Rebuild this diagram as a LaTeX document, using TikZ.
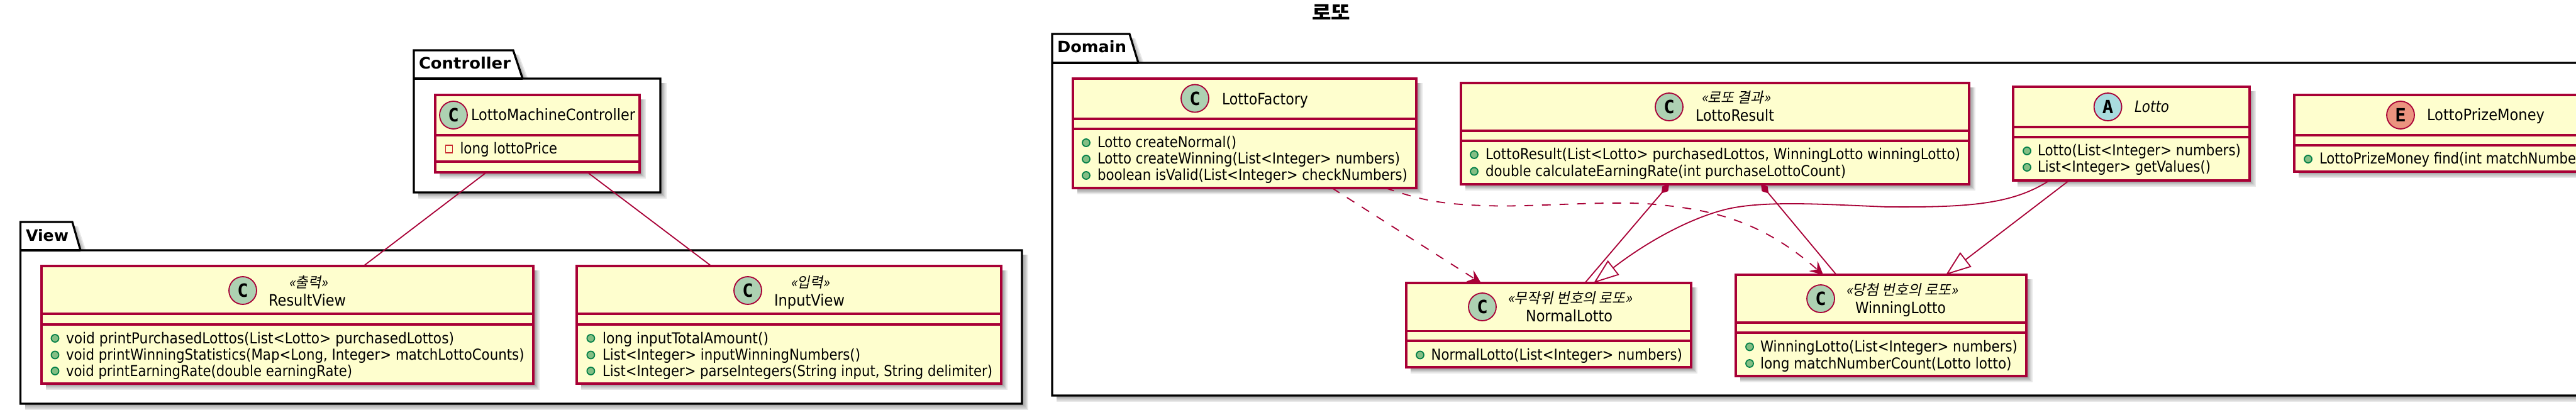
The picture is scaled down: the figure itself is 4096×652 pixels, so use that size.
\documentclass[tikz,border=0pt]{standalone}
\usepackage{fontspec}
\setmainfont{DejaVu Sans}
\newfontfamily\krs[FakeSlant=0.2]{Noto Sans CJK KR}
\newfontfamily\krb{Noto Sans CJK KR}
\newfontfamily\monoB{DejaVu Sans Mono}
\usetikzlibrary{arrows.meta}
\definecolor{umlborder}{HTML}{A80036}
\definecolor{umlfill}{HTML}{FEFECE}
\definecolor{umlclass}{HTML}{ADD1B2}
\definecolor{umlabs}{HTML}{A9DCDF}
\definecolor{umlenum}{HTML}{EB937F}
\definecolor{pubfill}{HTML}{84BE84}
\definecolor{publine}{HTML}{038048}
\definecolor{privline}{HTML}{C82930}
\tikzset{
  classbox/.style={draw=umlborder,fill=umlfill,line width=3.4pt,rectangle,inner sep=0pt,outer sep=0pt,anchor=north west},
  sepline/.style={draw=umlborder,line width=3.4pt},
  pkgline/.style={draw=black,fill=white,line width=3.2pt,line join=miter},
  shadowlayer/.style={fill=black,opacity=.09},
  spot/.style={circle,draw=umlborder,line width=1.8pt,minimum size=44pt,inner sep=0pt,outer sep=0pt},
  pubdot/.style={circle,draw=publine,fill=pubfill,line width=1.8pt,minimum size=12pt,inner sep=0pt},
  privsq/.style={rectangle,draw=privline,line width=1.8pt,minimum width=11pt,minimum height=12pt,inner sep=0pt},
  txtnode/.style={anchor=base west,inner sep=0pt,outer sep=0pt,text=black},
  conn/.style={draw=umlborder,line width=1.8pt},
  dep/.style={conn,dash pattern=on 14pt off 14pt,-{Stealth[length=21pt,width=21pt,inset=8pt,fill=umlborder]}},
  inh/.style={conn,-{Triangle[length=40pt,width=29pt,fill=white]}},
  comp/.style={conn,{Diamond[length=19pt,width=12pt,fill=umlborder]}-},
}
\newcounter{tn}
% x, y centre, width, text
\newcommand\lbl[5][]{\stepcounter{tn}\node[txtnode,#1] (t\arabic{tn}) at ({#2},{#3+8}) {\resizebox{#4pt}{\height}{#5}};}
\newcommand\mem[4]{\lbl{#1}{#2}{#3}{\fontsize{24}{26}\selectfont #4}}
\newcommand\nm[4]{\lbl{#1}{#2}{#3}{\fontsize{25}{26}\selectfont #4}}
\newcommand\ster[4]{\lbl{#1}{#2}{#3}{\fontsize{23}{24}\krs #4}}
\newcommand\pub[2]{\stepcounter{tn}\node[pubdot] (t\arabic{tn}) at ({#1},{#2}) {};}
\newcommand\spotc[4]{\stepcounter{tn}\node[spot,fill=#3] (t\arabic{tn}) at ({#1},{#2}) {\fontsize{29}{29}\monoB\bfseries #4};}
% name x1 y1 x2 y2 header-bottom separator
\newcommand\cls[7]{%
  \foreach \dd in {3,5,7,9}{\fill[shadowlayer] ({#2+7},{#3+7}) rectangle ({#4+\dd+1},{#5+\dd+1});}
  \node[classbox,minimum width={(#4-#2)*1pt},minimum height={(#5-#3)*1pt}] (#1) at (#2,#3) {};
  \draw[sepline] (#2,#6) -- (#4,#6);
  \draw[sepline] (#2,#7) -- (#4,#7);
}
% x1 tabtop tabx1 tabx2 bodytop x2 y2
\newcommand\pkg[7]{%
  \foreach \dd in {3,5,7,9}{\fill[shadowlayer] ({#1+7},{#5+7}) rectangle ({#6+\dd+1},{#7+\dd+1});
    \fill[shadowlayer] ({#3},{#2+7}) -- ({#3+\dd},{#2+7}) -- ({#4+\dd},{#5+1}) -- ({#4},{#5+1}) -- cycle;}
  \draw[pkgline] (#1,#5) -- (#1,#2) -- (#3,#2) -- (#4,#5) -- (#6,#5) -- (#6,#7) -- (#1,#7) -- cycle;
  \draw[pkgline] (#1,#5) -- (#4,#5);
}
\begin{document}
\begin{tikzpicture}[x=1pt,y=-1pt]
\useasboundingbox (0,0) rectangle (4096,652);
\clip (0,0) rectangle (4096,652);
% title
\stepcounter{tn}\node[anchor=base west,inner sep=0pt] (title) at (2086,32) {\resizebox{61pt}{\height}{\fontsize{31}{31}\krb\bfseries 로또}};
% packages
\pkg{658}{80}{816}{831}{125}{1050}{306}
\pkg{32.5}{353}{115}{128}{398}{1625}{642}
\pkg{1673}{54}{1796}{1810}{100}{4200}{629}
\lbl{666}{102}{146}{\fontsize{25}{26}\selectfont\bfseries Controller}
\lbl{41}{375}{68}{\fontsize{25}{26}\selectfont\bfseries View}
\lbl{1681}{76}{110}{\fontsize{25}{26}\selectfont\bfseries Domain}
% classes
\cls{lmc}{692}{151}{1017}{274}{215}{257}
\cls{rv}{66}{423}{848}{610}{499}{516}
\cls{iv}{917}{423}{1592}{610}{499}{516}
\cls{lf}{1706}{125}{2252}{299}{189}{205}
\cls{lr}{2323}{132}{3131}{293}{208}{224}
\cls{nl}{2236}{450}{2689}{584}{526.5}{542}
\cls{wl}{2760}{437}{3222}{598}{513}{529}
\cls{lotto}{3201}{138}{3577}{287}{202}{218}
\cls{lpm}{3648}{151}{4200}{273}{215}{231}
% LottoMachineController
\spotc{721}{183}{umlclass}{C}
\nm{749}{184}{261}{LottoMachineController}
\stepcounter{tn}\node[privsq] (t\arabic{tn}) at (714,237) {};
\mem{731.5}{237}{154.5}{long lottoPrice}
% ResultView
\spotc{386}{462}{umlclass}{C}
\ster{459}{449}{62}{«출력»}
\nm{427}{478}{123}{ResultView}
\pub{87.5}{538}\pub{87.5}{564.5}\pub{87.5}{590}
\mem{105}{538}{617}{void printPurchasedLottos(List<Lotto> purchasedLottos)}
\mem{105}{564.5}{728.5}{void printWinningStatistics(Map<Long, Integer> matchLottoCounts)}
\mem{105}{590}{455}{void printEarningRate(double earningRate)}
% InputView
\spotc{1189}{462}{umlclass}{C}
\ster{1257}{449}{62}{«입력»}
\nm{1231}{478}{112}{InputView}
\pub{939.4}{538}\pub{939.4}{564.5}\pub{939.4}{590}
\mem{958}{538}{264}{long inputTotalAmount()}
\mem{958}{564.5}{410}{List<Integer> inputWinningNumbers()}
\mem{958}{590}{620}{List<Integer> parseIntegers(String input, String delimiter)}
% LottoFactory
\spotc{1900}{156.5}{umlclass}{C}
\nm{1943}{158.5}{137}{LottoFactory}
\pub{1727}{227}\pub{1727}{253}\pub{1727}{279}
\mem{1745}{227}{221}{Lotto createNormal()}
\mem{1745}{253}{481}{Lotto createWinning(List<Integer> numbers)}
\mem{1745}{279}{493}{boolean isValid(List<Integer> checkNumbers)}
% LottoResult
\spotc{2654}{170}{umlclass}{C}
\ster{2705}{156}{110}{«로또 결과»}
\nm{2696}{185}{125}{LottoResult}
\pub{2344}{246}\pub{2344}{272.5}
\mem{2362}{246}{755}{LottoResult(List<Lotto> purchasedLottos, WinningLotto winningLotto)}
\mem{2362}{272.5}{573}{double calculateEarningRate(int purchaseLottoCount)}
% NormalLotto
\spotc{2357}{488}{umlclass}{C}
\ster{2397}{474}{198}{«무작위 번호의 로또»}
\nm{2426}{503.5}{138}{NormalLotto}
\pub{2258}{564.5}
\mem{2275.5}{564.5}{399.5}{NormalLotto(List<Integer> numbers)}
% WinningLotto
\spotc{2895}{475}{umlclass}{C}
\ster{2935}{461}{178}{«당첨 번호의 로또»}
\nm{2950}{490.5}{144}{WinningLotto}
\pub{2782}{551.5}\pub{2782}{578}
\mem{2799}{551.5}{409}{WinningLotto(List<Integer> numbers)}
\mem{2799}{578}{399.5}{long matchNumberCount(Lotto lotto)}
% Lotto
\spotc{3351.6}{170}{umlabs}{A}
\nm{3394}{171}{55}{\itshape Lotto}
\pub{3223}{240}\pub{3223}{266}
\mem{3240}{240}{323}{Lotto(List<Integer> numbers)}
\mem{3240}{266}{275}{List<Integer> getValues()}
% LottoPrizeMoney
\spotc{3817}{183}{umlenum}{E}
\nm{3859}{184}{187}{LottoPrizeMoney}
\pub{3670}{253}
\mem{3688}{253}{408}{LottoPrizeMoney find(int matchNumbe}
% connectors
\draw[conn] ([xshift=81.6pt]lmc.south west) -- ([xshift=512pt]rv.north west);
\draw[conn] ([xshift=242pt]lmc.south west) -- ([xshift=214pt]iv.north west);
\draw[dep] ([xshift=412pt]lf.south west) -- ([xshift=119pt]nl.north west);
\draw[dep] ([xshift=497pt]lf.south west) .. controls (2260,318) and (2290,326) .. (2383,327.5)
   .. controls (2450,328) and (2550,320) .. (2619,324)
   .. controls (2720,332) and (2800,350) .. ([xshift=139pt]wl.north west);
\draw[comp] ([xshift=331pt]lr.south west) -- ([xshift=284pt]nl.north west);
\draw[comp] ([xshift=477pt]lr.south west) -- ([xshift=160pt]wl.north west);
\draw[inh] ([xshift=57.6pt]lotto.south west) .. controls (3200,325) and (3130,330) .. (3000,329)
   .. controls (2900,325) and (2800,318) .. (2740,334)
   .. controls (2680,350) and (2614,388) .. ([xshift=298pt]nl.north west);
\draw[inh] ([xshift=89pt]lotto.south west) -- ([xshift=334pt]wl.north west);
\end{tikzpicture}
\end{document}
